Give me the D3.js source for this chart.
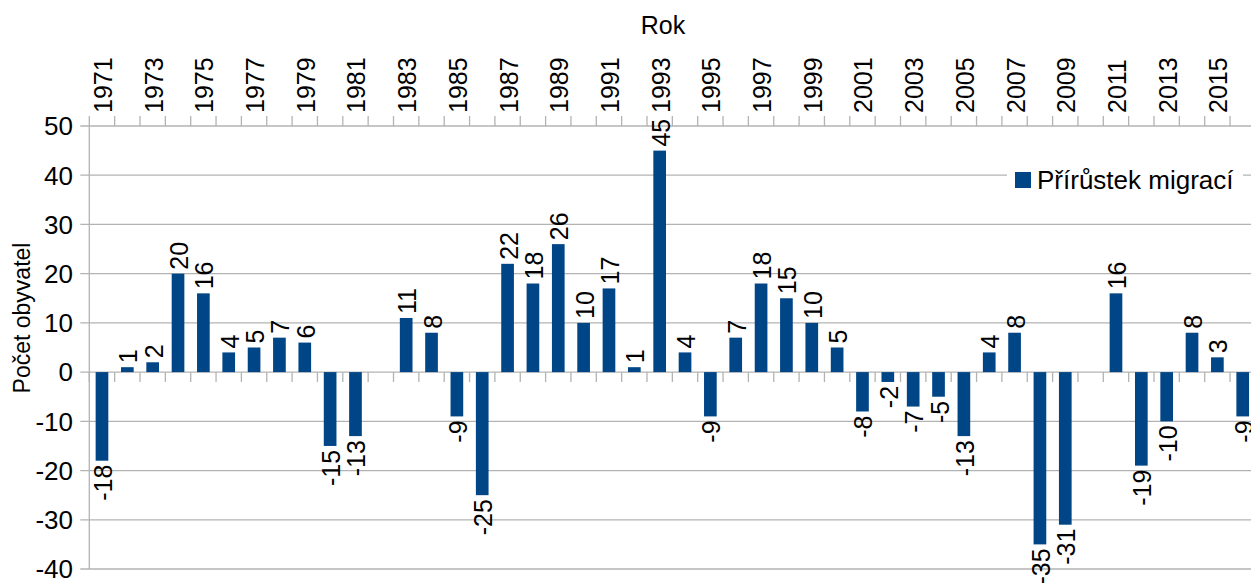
<html>
<head>
<script src="https://d3js.org/d3.v7.min.js"></script>
<style>
  body { margin: 0; background: #fff; }
  text { font-family: "Liberation Sans", Arial, sans-serif; fill: #000; }
</style>
</head>
<body>
<svg id="chart" width="1251" height="583"></svg>
<script>
// data (null = no bar shown)
const years = d3.range(1971, 2017);
const values = [-18, 1, 2, 20, 16, 4, 5, 7, 6, -15,
                -13, null, 11, 8, -9, -25, 22, 18, 26, 10,
                17, 1, 45, 4, -9, 7, 18, 15, 10, 5,
                -8, -2, -7, -5, -13, 4, 8, -35, -31, null,
                16, -19, -10, 8, 3, -9];
const yearLabels = years.filter(function(y) { return y % 2 == 1; });
const yTicks = [-40, -30, -20, -10, 0, 10, 20, 30, 40, 50];
const seriesName = "Přírůstek migrací";
const xTitle = "Rok";
const yTitle = "Počet obyvatel";

const data = years.map(function(y, i) { return {year: y, value: values[i]}; });

const Left = 89.3, Top = 126, Bottom = 569;
const Step = 25.35;
const Right = Left + Step * years.length;
const barColor = "#004586";
const gridColor = "#b3b3b3";

const svg = d3.select("#chart");

const xs = d3.scaleBand().domain(years).range([Left, Right])
    .paddingInner(0.5).paddingOuter(0.25);
const ys = d3.scaleLinear().domain([-40, 50]).range([Bottom, Top]);

// category boundaries
function boundary(i) { return xs(years[0]) - xs.step() * 0.25 + i * xs.step(); }
const bounds = d3.range(0, years.length + 1);

// gridlines
svg.append("g").selectAll("line").data(yTicks).enter().append("line")
    .attr("x1", Left - 9).attr("x2", Right)
    .attr("y1", function(d) { return ys(d); })
    .attr("y2", function(d) { return ys(d); })
    .attr("stroke", gridColor).attr("stroke-width", 1.3);

// y axis line
svg.append("line")
    .attr("x1", Left).attr("x2", Left)
    .attr("y1", ys(50)).attr("y2", ys(-40))
    .attr("stroke", gridColor).attr("stroke-width", 1.3);

// ticks at category boundaries: up from the top, down from zero
svg.append("g").selectAll("line").data(bounds).enter().append("line")
    .attr("x1", function(i) { return boundary(i); })
    .attr("x2", function(i) { return boundary(i); })
    .attr("y1", ys(50) - 10).attr("y2", ys(50))
    .attr("stroke", gridColor).attr("stroke-width", 1.3);
svg.append("g").selectAll("line").data(bounds).enter().append("line")
    .attr("x1", function(i) { return boundary(i); })
    .attr("x2", function(i) { return boundary(i); })
    .attr("y1", ys(0)).attr("y2", ys(0) + 10)
    .attr("stroke", gridColor).attr("stroke-width", 1.3);

// y tick labels
svg.append("g").selectAll("text").data(yTicks).enter().append("text")
    .attr("x", 73)
    .attr("y", function(d) { return ys(d); })
    .attr("dy", "0.36em")
    .attr("text-anchor", "end")
    .style("font-size", "26px")
    .text(function(d) { return d; });

// year labels (rotated)
svg.append("g").selectAll("text").data(yearLabels).enter().append("text")
    .attr("transform", function(d) {
        return "translate(" + (xs(d) + xs.bandwidth() / 2 + 1) + "," + 113 + ") rotate(-90)";
    })
    .attr("dy", "0.36em")
    .attr("text-anchor", "start")
    .style("font-size", "25px")
    .text(function(d) { return d; });

// bars
const shown = data.filter(function(d) { return d.value !== null; });
svg.append("g").selectAll("rect").data(shown).enter().append("rect")
    .attr("x", function(d) { return xs(d.year); })
    .attr("width", xs.bandwidth())
    .attr("y", function(d) { return ys(Math.max(0, d.value)); })
    .attr("height", function(d) { return Math.abs(ys(d.value) - ys(0)); })
    .attr("fill", barColor);

// value labels
svg.append("g").selectAll("text").data(shown).enter().append("text")
    .attr("transform", function(d) {
        const y = d.value >= 0 ? ys(d.value) - 4 : ys(d.value) + 4;
        return "translate(" + (xs(d.year) + xs.bandwidth() / 2 + 1) + "," + y + ") rotate(-90)";
    })
    .attr("dy", "0.36em")
    .attr("text-anchor", function(d) { return d.value >= 0 ? "start" : "end"; })
    .style("font-size", "25px")
    .text(function(d) { return d.value; });

// axis titles
svg.append("text")
    .attr("x", 663).attr("y", 34)
    .attr("text-anchor", "middle")
    .style("font-size", "25px")
    .text(xTitle);
svg.append("text")
    .attr("transform", "translate(30,318) rotate(-90)")
    .attr("text-anchor", "middle")
    .style("font-size", "23px")
    .text(yTitle);

// legend
const legend = svg.append("g");
legend.append("rect")
    .attr("x", 1007).attr("y", 163).attr("width", 236).attr("height", 36)
    .attr("fill", "#fff");
legend.append("rect")
    .attr("x", 1015).attr("y", 172).attr("width", 16).attr("height", 16)
    .attr("fill", barColor);
legend.append("text")
    .attr("x", 1037).attr("y", 189)
    .style("font-size", "26px")
    .text(seriesName);
</script>
</body>
</html>
